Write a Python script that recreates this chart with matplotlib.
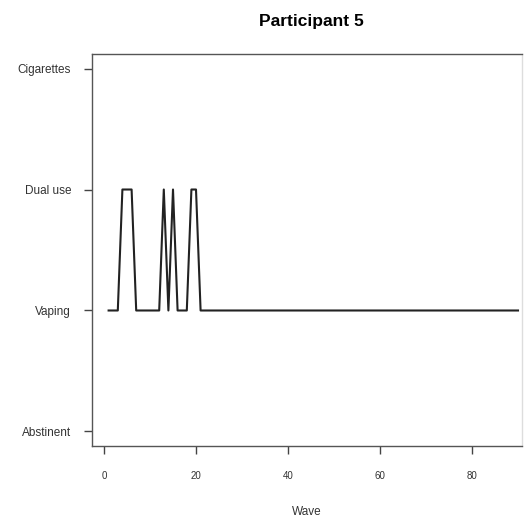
import matplotlib
matplotlib.use("Agg")
import matplotlib.pyplot as plt
import numpy as np

plt.rcParams['font.family'] = ['Liberation Sans', 'DejaVu Sans']

# states: 1 Abstinent, 2 Vaping, 3 Dual use, 4 Cigarettes
state_labels = ["Abstinent", "Vaping", "Dual use", "Cigarettes"]
waves = np.arange(1, 91)
state = np.full(90, 2)
dual_waves = [4, 5, 6, 13, 15, 19, 20]
for w in dual_waves:
    state[w - 1] = 3

xticks = [0, 20, 40, 60, 80]

fig = plt.figure(figsize=(5.26, 5.18), dpi=100)
ax = fig.add_axes([92 / 526, 72 / 518, 430 / 526, 392 / 518])

ax.plot(waves, state, color="#222222", lw=1.5)

ax.set_xlim((92 - 104) / 4.6, (522 - 104) / 4.6)
ax.set_ylim(0.88, 4.12)
ax.set_xticks(xticks)
ax.set_yticks([1, 2, 3, 4])
ax.set_yticklabels(state_labels)
ax.tick_params(axis="both", length=6, width=1, color="#444444",
               labelcolor="#333333")
ax.tick_params(axis="y", labelsize=8.5, pad=9)
ax.tick_params(axis="x", labelsize=7, pad=12)
for s in ax.spines.values():
    s.set_color("#555555")
    s.set_linewidth(1)
ax.spines["right"].set_color("#dddddd")

ax.set_xlabel("Wave", fontsize=8.5, color="#333333", labelpad=18)
ax.set_title("Participant 5", fontsize=12.5, fontweight="bold", pad=20, x=0.51)

fig.savefig("out.png", dpi=100)
